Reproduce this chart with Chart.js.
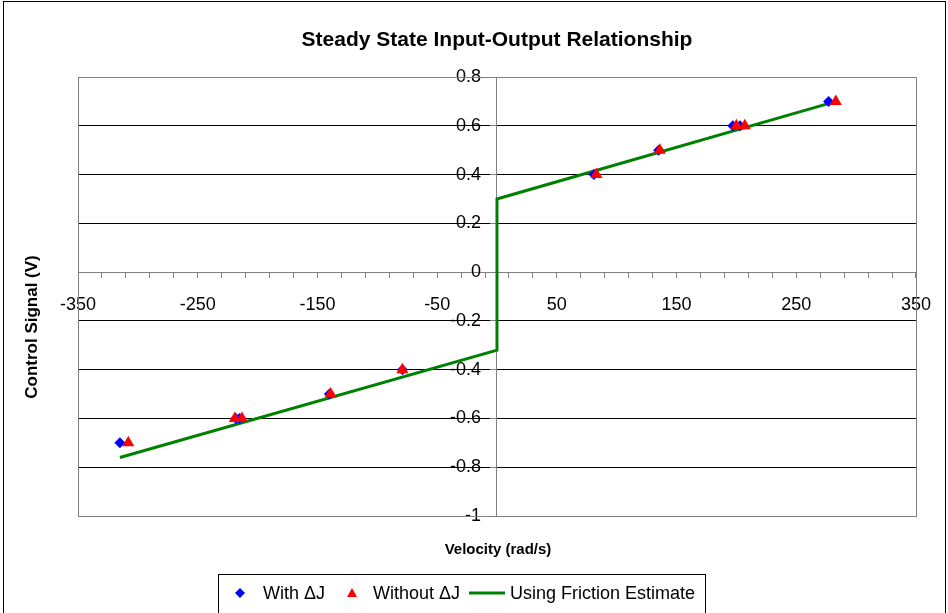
<!DOCTYPE html>
<html lang="en">
<head>
<meta charset="UTF-8">
<title>Steady State Input-Output Relationship</title>
<script src="https://cdn.jsdelivr.net/npm/chart.js"></script>
<style>
  html, body { margin: 0; padding: 0; background: #fff; }
  #wrap { width: 948px; height: 613px; position: relative; }
</style>
</head>
<body>
<div id="wrap"><canvas id="ioChart"></canvas></div>
<script>
// values
const withDJ_x = [-315, -218, -215, -140, -79, 81, 135, 197, 203, 277];
const withDJ_y = [-0.7, -0.6, -0.6, -0.5, -0.4, 0.4, 0.5, 0.6, 0.6, 0.7];
const withoutDJ_x = [-308, -219, -213, -139, -79, 83, 136, 200, 207, 283];
const withoutDJ_y = [-0.7, -0.6, -0.6, -0.5, -0.4, 0.4, 0.5, 0.6, 0.6, 0.7];
const friction_x = [-315, 0, 0, 276];
const friction_y = [-0.76, -0.32, 0.3, 0.69];
const xTickLabels = [-350, -250, -150, -50, 50, 150, 250, 350];
const yTicks = [-1, -0.8, -0.6, -0.4, -0.2, 0, 0.2, 0.4, 0.6, 0.8];

const seriesNames = ['With \u0394J', 'Without \u0394J', 'Using Friction Estimate'];

function pts(xs, ys) {
  return xs.map((x, i) => ({ x: x, y: ys[i] }));
}

Chart.defaults.font.family = '"Liberation Sans", Arial, sans-serif';
Chart.defaults.color = '#000';

const GRAY = '#808080';

// title, axis titles, plot frame, outer frame and the boxed legend
const decor = {
  id: 'decor',
  beforeDraw(chart) {
    const ctx = chart.ctx;
    ctx.save();
    ctx.fillStyle = '#fff';
    ctx.fillRect(0, 0, chart.width, chart.height);
    ctx.restore();
  },
  beforeDatasetsDraw(chart) {
    const { ctx, chartArea: a } = chart;
    ctx.save();
    ctx.strokeStyle = GRAY;
    ctx.lineWidth = 1;
    ctx.strokeRect(Math.round(a.left) + 0.5, Math.round(a.top) + 0.5,
      Math.round(a.right - a.left), Math.round(a.bottom - a.top));
    ctx.restore();
  },
  afterDraw(chart) {
    const ctx = chart.ctx;
    ctx.save();
    // outer frame
    ctx.strokeStyle = '#000';
    ctx.lineWidth = 1;
    ctx.strokeRect(3.5, 1.5, 942, 640);

    ctx.fillStyle = '#000';
    ctx.textAlign = 'center';
    ctx.textBaseline = 'middle';
    ctx.font = 'bold 21px "Liberation Sans", Arial, sans-serif';
    ctx.fillText('Steady State Input-Output Relationship', 497, 40);

    ctx.font = 'bold 15px "Liberation Sans", Arial, sans-serif';
    ctx.fillText('Velocity (rad/s)', 498, 550);
    ctx.save();
    ctx.font = 'bold 17px "Liberation Sans", Arial, sans-serif';
    ctx.translate(32, 327);
    ctx.rotate(-Math.PI / 2);
    ctx.fillText('Control Signal (V)', 0, 0);
    ctx.restore();

    // legend box
    ctx.strokeStyle = '#000';
    ctx.strokeRect(218.5, 574.5, 487, 60);
    const ly = 593;
    ctx.font = '18px "Liberation Sans", Arial, sans-serif';
    ctx.textAlign = 'left';
    // diamond
    ctx.fillStyle = '#0000FF';
    ctx.beginPath();
    ctx.moveTo(240, ly - 5); ctx.lineTo(245, ly); ctx.lineTo(240, ly + 5); ctx.lineTo(235, ly);
    ctx.closePath(); ctx.fill();
    // triangle
    ctx.fillStyle = '#FF0000';
    ctx.beginPath();
    ctx.moveTo(352, ly - 5); ctx.lineTo(357, ly + 4); ctx.lineTo(347, ly + 4);
    ctx.closePath(); ctx.fill();
    // line
    ctx.strokeStyle = '#008000';
    ctx.lineWidth = 3;
    ctx.beginPath(); ctx.moveTo(469, ly); ctx.lineTo(505, ly); ctx.stroke();
    ctx.fillStyle = '#000';
    ctx.fillText(seriesNames[0], 263, ly + 1);
    ctx.fillText(seriesNames[1], 373, ly + 1);
    ctx.fillText(seriesNames[2], 510, ly + 1);
    ctx.restore();
  }
};

new Chart(document.getElementById('ioChart'), {
  type: 'scatter',
  data: {
    datasets: [
      {
        label: seriesNames[1],
        data: pts(withoutDJ_x, withoutDJ_y),
        pointStyle: 'triangle',
        pointRadius: 7,
        backgroundColor: '#FF0000',
        borderColor: '#FF0000',
        borderWidth: 0,
        order: 0
      },
      {
        label: seriesNames[0],
        data: pts(withDJ_x, withDJ_y),
        pointStyle: 'rectRot',
        pointRadius: 5.5,
        backgroundColor: '#0000FF',
        borderColor: '#0000FF',
        borderWidth: 0,
        order: 1
      },
      {
        label: seriesNames[2],
        data: pts(friction_x, friction_y),
        showLine: true,
        pointRadius: 0,
        borderColor: '#008000',
        borderWidth: 3,
        order: 2
      }
    ]
  },
  options: {
    responsive: true,
    maintainAspectRatio: false,
    animation: false,
    layout: { padding: { left: 78, right: 31, top: 77, bottom: 97 } },
    plugins: {
      legend: { display: false },
      tooltip: { enabled: false },
      title: { display: false }
    },
    scales: {
      x: {
        type: 'linear',
        min: -350,
        max: 350,
        position: { y: 0 },
        border: { color: GRAY, width: 1 },
        grid: { drawOnChartArea: false, tickLength: 5, tickColor: GRAY },
        ticks: {
          stepSize: 20,
          autoSkip: false,
          maxRotation: 0,
          padding: 17,
          font: { size: 18 },
          callback: v => xTickLabels.includes(v) ? String(v) : ''
        }
      },
      y: {
        type: 'linear',
        min: -1,
        max: 0.8,
        // x range is symmetric, so the centre of the plot is x = 0
        position: 'center',
        afterBuildTicks: s => { s.ticks = yTicks.map(v => ({ value: v })); },
        border: { color: GRAY, width: 1 },
        grid: {
          tickLength: 6,
          tickColor: GRAY,
          color: c => (c.tick && (c.tick.value === 0 || c.tick.value === -1 || c.tick.value === 0.8)) ? GRAY : '#000'
        },
        ticks: {
          padding: 10,
          font: { size: 18 },
          callback: v => String(v)
        }
      }
    }
  },
  plugins: [decor]
});
</script>
</body>
</html>
